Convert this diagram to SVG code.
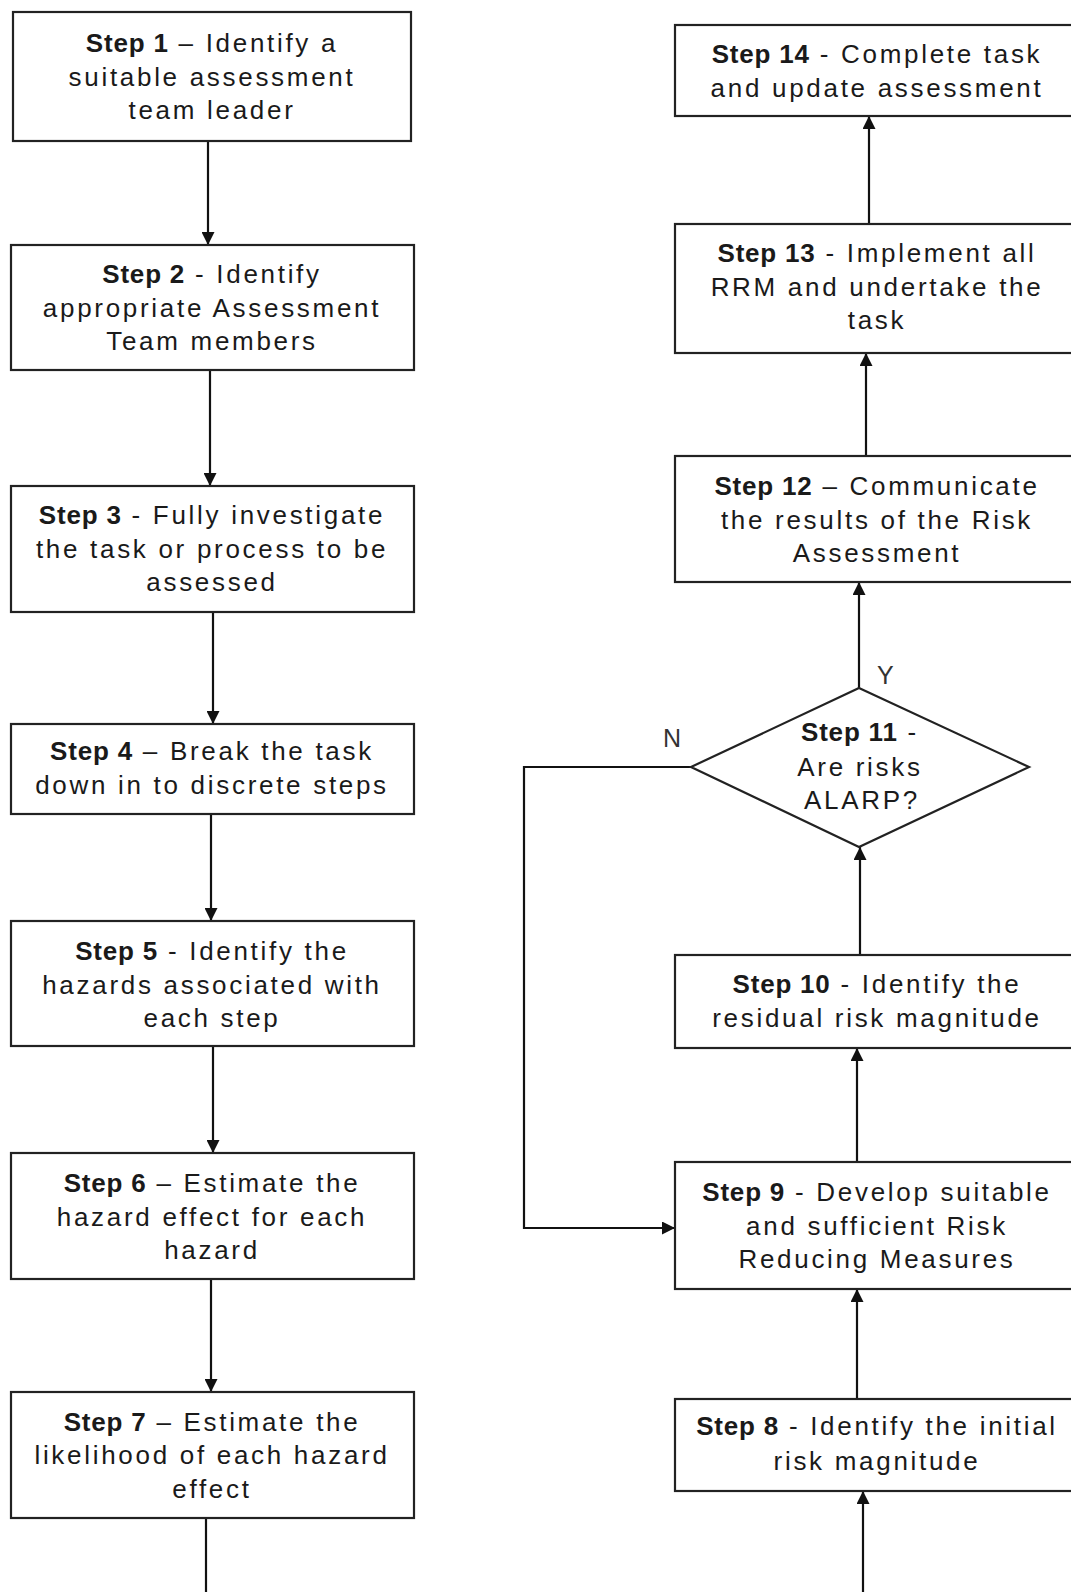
<svg xmlns="http://www.w3.org/2000/svg" width="1071" height="1592" viewBox="0 0 1071 1592">
<style>
.box{fill:#fff;stroke:#222;stroke-width:2.2}
.t{font-family:"Liberation Sans",Arial,sans-serif;font-size:26px;letter-spacing:2.7px;fill:#1a1a1a;text-anchor:middle}
.b{font-weight:bold;letter-spacing:0.8px}
.c{fill:none;stroke:#111;stroke-width:2.2}
.lbl{font-family:"Liberation Sans",Arial,sans-serif;font-size:25px;fill:#333}
</style>
<defs>
<marker id="ah" markerUnits="userSpaceOnUse" markerWidth="13" markerHeight="13" refX="13" refY="6.5" orient="auto">
<path d="M0,0 L13,6.5 L0,13 z" fill="#111"/>
</marker>
</defs>
<rect width="1071" height="1592" fill="#fff"/>

<g id="connectors">
<line class="c" x1="208" y1="141" x2="208" y2="245" marker-end="url(#ah)"/>
<line class="c" x1="210" y1="370" x2="210" y2="486" marker-end="url(#ah)"/>
<line class="c" x1="213" y1="612" x2="213" y2="724" marker-end="url(#ah)"/>
<line class="c" x1="211" y1="814" x2="211" y2="921" marker-end="url(#ah)"/>
<line class="c" x1="213" y1="1046" x2="213" y2="1153" marker-end="url(#ah)"/>
<line class="c" x1="211" y1="1279" x2="211" y2="1392" marker-end="url(#ah)"/>
<line class="c" x1="206" y1="1518" x2="206" y2="1592"/>
<line class="c" x1="863" y1="1592" x2="863" y2="1491" marker-end="url(#ah)"/>
<line class="c" x1="857" y1="1399" x2="857" y2="1289" marker-end="url(#ah)"/>
<line class="c" x1="857" y1="1162" x2="857" y2="1048" marker-end="url(#ah)"/>
<line class="c" x1="860" y1="955" x2="860" y2="847" marker-end="url(#ah)"/>
<line class="c" x1="859" y1="688" x2="859" y2="582" marker-end="url(#ah)"/>
<line class="c" x1="866" y1="456" x2="866" y2="353" marker-end="url(#ah)"/>
<line class="c" x1="869" y1="224" x2="869" y2="116" marker-end="url(#ah)"/>
<polyline class="c" points="691,767 524,767 524,1228 675,1228" marker-end="url(#ah)"/>
<text class="lbl" x="877" y="684">Y</text>
<text class="lbl" x="663" y="747">N</text>
</g>

<g id="step1">
<rect class="box" x="13" y="12" width="398" height="129"/>
<text class="t" x="212" y="52"><tspan class="b">Step 1</tspan> – Identify a</text>
<text class="t" x="212" y="86">suitable assessment</text>
<text class="t" x="212" y="119">team leader</text>
</g>
<g id="step2">
<rect class="box" x="11" y="245" width="403" height="125"/>
<text class="t" x="212" y="283"><tspan class="b">Step 2</tspan> - Identify</text>
<text class="t" x="212" y="317">appropriate Assessment</text>
<text class="t" x="212" y="350">Team members</text>
</g>
<g id="step3">
<rect class="box" x="11" y="486" width="403" height="126"/>
<text class="t" x="212" y="524"><tspan class="b">Step 3</tspan> - Fully investigate</text>
<text class="t" x="212" y="558">the task or process to be</text>
<text class="t" x="212" y="591">assessed</text>
</g>
<g id="step4">
<rect class="box" x="11" y="724" width="403" height="90"/>
<text class="t" x="212" y="760"><tspan class="b">Step 4</tspan> – Break the task</text>
<text class="t" x="212" y="794">down in to discrete steps</text>
</g>
<g id="step5">
<rect class="box" x="11" y="921" width="403" height="125"/>
<text class="t" x="212" y="960"><tspan class="b">Step 5</tspan> - Identify the</text>
<text class="t" x="212" y="994">hazards associated with</text>
<text class="t" x="212" y="1027">each step</text>
</g>
<g id="step6">
<rect class="box" x="11" y="1153" width="403" height="126"/>
<text class="t" x="212" y="1192"><tspan class="b">Step 6</tspan> – Estimate the</text>
<text class="t" x="212" y="1226">hazard effect for each</text>
<text class="t" x="212" y="1259">hazard</text>
</g>
<g id="step7">
<rect class="box" x="11" y="1392" width="403" height="126"/>
<text class="t" x="212" y="1431"><tspan class="b">Step 7</tspan> – Estimate the</text>
<text class="t" x="212" y="1464">likelihood of each hazard</text>
<text class="t" x="212" y="1498">effect</text>
</g>

<g id="step8">
<rect class="box" x="675" y="1399" width="410" height="92"/>
<text class="t" x="877" y="1435"><tspan class="b">Step 8</tspan> - Identify the initial</text>
<text class="t" x="877" y="1470">risk magnitude</text>
</g>
<g id="step9">
<rect class="box" x="675" y="1162" width="410" height="127"/>
<text class="t" x="877" y="1201"><tspan class="b">Step 9</tspan> - Develop suitable</text>
<text class="t" x="877" y="1235">and sufficient Risk</text>
<text class="t" x="877" y="1268">Reducing Measures</text>
</g>
<g id="step10">
<rect class="box" x="675" y="955" width="410" height="93"/>
<text class="t" x="877" y="993"><tspan class="b">Step 10</tspan> - Identify the</text>
<text class="t" x="877" y="1027">residual risk magnitude</text>
</g>
<g id="step11">
<polygon class="box" points="859,688 1029,767 859,847 691,767"/>
<text class="t" x="860" y="741"><tspan class="b">Step 11</tspan> -</text>
<text class="t" x="860" y="776">Are risks</text>
<text class="t" x="862" y="809">ALARP?</text>
</g>
<g id="step12">
<rect class="box" x="675" y="456" width="410" height="126"/>
<text class="t" x="877" y="495"><tspan class="b">Step 12</tspan> – Communicate</text>
<text class="t" x="877" y="529">the results of the Risk</text>
<text class="t" x="877" y="562">Assessment</text>
</g>
<g id="step13">
<rect class="box" x="675" y="224" width="410" height="129"/>
<text class="t" x="877" y="262"><tspan class="b">Step 13</tspan> - Implement all</text>
<text class="t" x="877" y="296">RRM and undertake the</text>
<text class="t" x="877" y="329">task</text>
</g>
<g id="step14">
<rect class="box" x="675" y="25" width="410" height="91"/>
<text class="t" x="877" y="63"><tspan class="b">Step 14</tspan> - Complete task</text>
<text class="t" x="877" y="97">and update assessment</text>
</g>
</svg>
